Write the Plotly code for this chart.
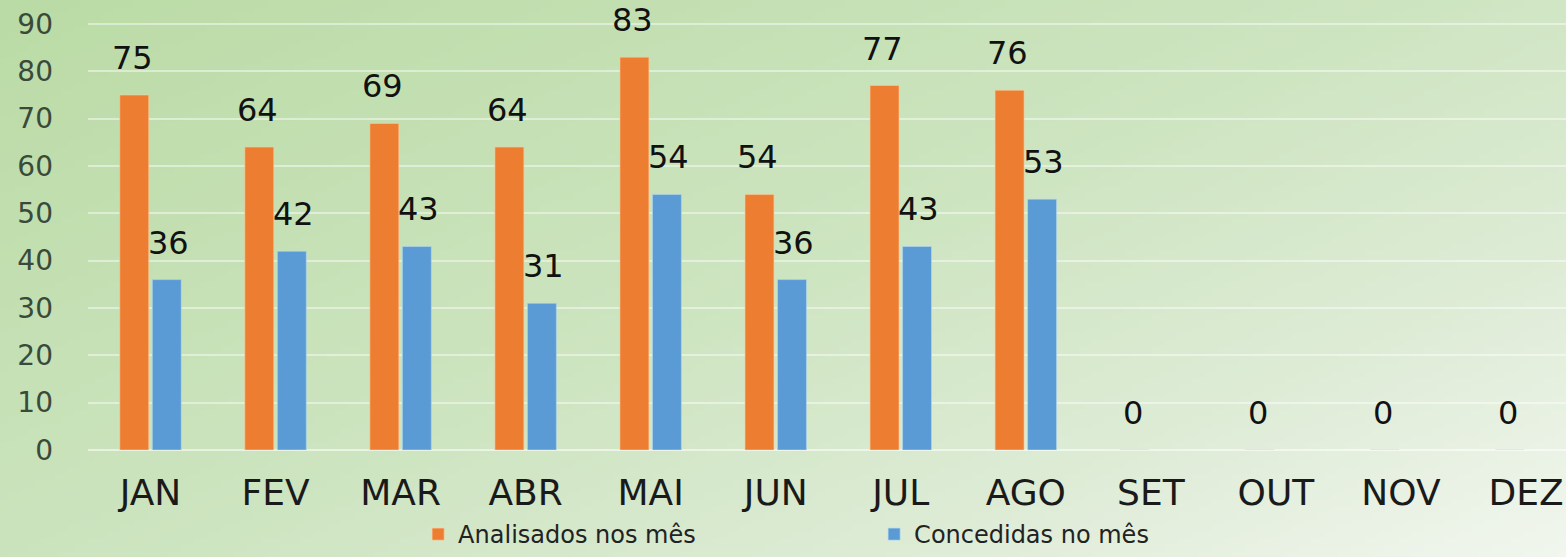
import base64, struct, zlib
import numpy as np
import plotly.graph_objects as go

months = ["JAN", "FEV", "MAR", "ABR", "MAI", "JUN", "JUL", "AGO", "SET", "OUT", "NOV", "DEZ"]
analisados = [75, 64, 69, 64, 83, 54, 77, 76, 0, 0, 0, 0]
concedidas = [36, 42, 43, 31, 54, 36, 43, 53, None, None, None, None]
y_ticks = [0, 10, 20, 30, 40, 50, 60, 70, 80, 90]

ORANGE = "#ED7D31"
BLUE = "#5B9BD5"


def gradient_png(w=240, h=90):
    xs = np.linspace(0, 1, w)[None, :]
    ys = np.linspace(0, 1, h)[:, None]
    t = np.clip((xs * 0.55 + ys * 0.45), 0, 1)
    stops_t = np.array([0.0, 0.5, 0.75, 1.0])
    c0 = np.array([[186, 219, 165], [206, 229, 193], [222, 236, 214], [243, 247, 240]], float)
    img = np.zeros((h, w, 3))
    for k in range(3):
        img[:, :, k] = np.interp(t, stops_t, c0[:, k])
    img = img.astype(np.uint8)
    raw = b"".join(b"\x00" + img[r].tobytes() for r in range(h))

    def chunk(tag, data):
        c = struct.pack(">I", len(data)) + tag + data
        return c + struct.pack(">I", zlib.crc32(tag + data) & 0xFFFFFFFF)

    png = b"\x89PNG\r\n\x1a\n" + chunk(b"IHDR", struct.pack(">IIBBBBB", w, h, 8, 2, 0, 0, 0))
    png += chunk(b"IDAT", zlib.compress(raw, 9)) + chunk(b"IEND", b"")
    return "data:image/png;base64," + base64.b64encode(png).decode()


fig = go.Figure()
fig.add_trace(go.Bar(x=months, y=analisados, name="Analisados nos mês", marker_color=ORANGE,
                     marker_line=dict(color="rgba(255,200,150,0.6)", width=1)))
fig.add_trace(go.Bar(x=months, y=concedidas, name="Concedidas no mês", marker_color=BLUE,
                     marker_line=dict(color="rgba(180,215,240,0.6)", width=1)))

label_font = dict(family="DejaVu Sans", size=32, color="#111111")
for m, v in zip(months, analisados):
    fig.add_annotation(x=m, y=v, text=str(v), showarrow=False, xshift=-18, yshift=37,
                       yanchor="middle", font=label_font)
for m, v in zip(months, concedidas):
    if v is not None:
        fig.add_annotation(x=m, y=v, text=str(v), showarrow=False, xshift=18, yshift=37,
                           yanchor="middle", font=label_font)

fig.add_layout_image(dict(source=gradient_png(), xref="paper", yref="paper", x=-0.07, y=1.02,
                          sizex=1.08, sizey=1.28, sizing="stretch", xanchor="left", yanchor="top",
                          layer="below"))

fig.update_layout(
    width=1566, height=557, autosize=False,
    margin=dict(l=88, r=0, t=0, b=107),
    paper_bgcolor="#e6f0e0",
    plot_bgcolor="rgba(0,0,0,0)",
    barmode="group", bargap=0.48, bargroupgap=0.11,
    showlegend=True,
    legend=dict(orientation="h", xref="container", yref="container",
                x=0.267, xanchor="left", y=-0.012, yanchor="bottom",
                font=dict(family="DejaVu Sans", size=24, color="#222222"),
                entrywidth=411, bgcolor="rgba(0,0,0,0)"),
    xaxis=dict(range=[-0.5, 11.32], showgrid=False, showline=False, ticks="",
               tickfont=dict(family="DejaVu Sans", size=36, color="#1a1a1a"), ticklabelstandoff=18),
    yaxis=dict(range=[0, 95.07], tickvals=y_ticks, showline=False, zeroline=True,
               zerolinecolor="rgba(255,255,255,0.55)", zerolinewidth=1.5,
               gridcolor="rgba(255,255,255,0.45)", gridwidth=1.5,
               tickfont=dict(family="DejaVu Sans", size=28, color="#3a4a3a"), ticklabelstandoff=34),
)

fig.write_html("out.html", config={"responsive": False, "displayModeBar": False},
               post_script="document.body.style.margin='0px';")
